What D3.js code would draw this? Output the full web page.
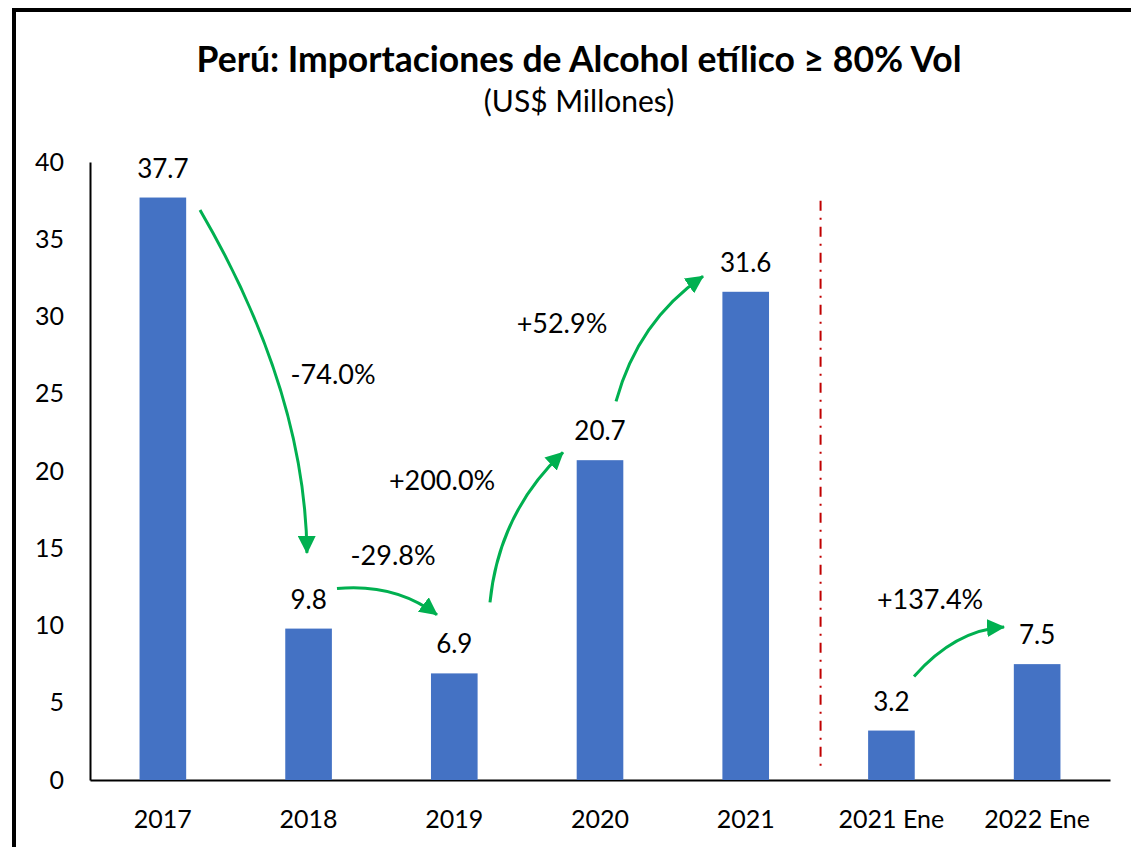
<!DOCTYPE html>
<html>
<head>
<meta charset="utf-8">
<script src="https://cdn.jsdelivr.net/npm/d3@7"></script>
<style>
  body { margin: 0; background: #fff; }
  text { font-family: Lato, "Open Sans", sans-serif; fill: #000; }
</style>
</head>
<body>
<div id="chart"></div>
<script>
// categories and values
const categories = ["2017", "2018", "2019", "2020", "2021", "2021 Ene", "2022 Ene"];
const values = [37.7, 9.8, 6.9, 20.7, 31.6, 3.2, 7.5];
const yTicks = [0, 5, 10, 15, 20, 25, 30, 35, 40];

// growth arrows: [category index, value] for start, control and tip
const arrowLabels = ["-74.0%", "-29.8%", "+200.0%", "+52.9%", "+137.4%"];
const arrowStart = [[0.255, 36.9], [1.195, 12.4], [2.245, 11.5], [3.11, 24.5], [5.155, 6.7]];
const arrowCtrl  = [[0.976, 25.2], [1.593, 12.75], [2.307, 17.3], [3.261, 29.7], [5.436, 9.7]];
const arrowTip   = [[0.989, 14.7], [1.881, 10.7], [2.746, 21.2], [3.707, 32.6], [5.773, 9.9]];
const arrowText  = [[1.168, 25.6], [1.58, 13.9], [1.916, 18.8], [2.739, 28.9], [5.265, 11.1]];

const W = 1131, H = 847;
const margin = { top: 162, right: 21, bottom: 67, left: 90 };

const svg = d3.select("#chart").append("svg")
    .attr("width", W)
    .attr("height", H);

// outer frame
svg.append("rect")
    .attr("x", 14).attr("y", 10)
    .attr("width", W + 20).attr("height", H + 20)
    .attr("fill", "none")
    .attr("stroke", "#000")
    .attr("stroke-width", 4);

// titles
svg.append("text")
    .attr("x", 579).attr("y", 72)
    .attr("text-anchor", "middle")
    .style("font-weight", "bold")
    .style("font-size", "35.5px")
    .text("Perú: Importaciones de Alcohol etílico ≥ 80% Vol");

svg.append("text")
    .attr("x", 579).attr("y", 112)
    .attr("text-anchor", "middle")
    .style("font-size", "30px")
    .text("(US$ Millones)");

// scales
const x = d3.scaleBand()
    .domain(categories)
    .range([margin.left, W - margin.right])
    .paddingInner(0.68)
    .paddingOuter(0.34);

const y = d3.scaleLinear()
    .domain([0, 40])
    .range([H - margin.bottom, margin.top]);

// fractional category index -> pixel
const xi = i => x(categories[0]) + x.bandwidth() / 2 + i * x.step();
const pt = d => [xi(d[0]), y(d[1])];

// axes
const yAxis = svg.append("g")
    .attr("transform", `translate(${margin.left},0)`)
    .call(d3.axisLeft(y).tickValues(yTicks).tickSize(0).tickPadding(26));

const xAxis = svg.append("g")
    .attr("transform", `translate(0,${H - margin.bottom})`)
    .call(d3.axisBottom(x).tickSize(0).tickPadding(30));

[yAxis, xAxis].forEach(g => {
    g.select(".domain").attr("stroke", "#000").attr("stroke-width", 2);
    g.selectAll("text")
        .style("font-size", "25px")
        .style("font-family", "Lato, sans-serif")
        .attr("fill", "#000");
});

// bars
svg.append("g")
    .selectAll("rect")
    .data(values)
    .enter()
    .append("rect")
    .attr("x", (d, i) => x(categories[i]))
    .attr("y", d => y(d))
    .attr("width", x.bandwidth())
    .attr("height", d => y(0) - y(d))
    .attr("fill", "#4472C4");

// value labels
svg.append("g")
    .selectAll("text")
    .data(values)
    .enter()
    .append("text")
    .attr("x", (d, i) => x(categories[i]) + x.bandwidth() / 2)
    .attr("y", d => y(d) - 20)
    .attr("text-anchor", "middle")
    .style("font-size", "26px")
    .text(d => d.toFixed(1));

// red separator between yearly and monthly data
const sepX = x("2021 Ene") - x.step() * x.paddingInner() / 2 + 2;
svg.append("line")
    .attr("x1", sepX).attr("x2", sepX)
    .attr("y1", y(37.5)).attr("y2", y(0.6))
    .attr("stroke", "#C00000")
    .attr("stroke-width", 2)
    .attr("stroke-dasharray", "10,7,2,7");

// arrows
svg.append("defs").append("marker")
    .attr("id", "head")
    .attr("viewBox", "0 0 18 18")
    .attr("refX", 17).attr("refY", 9)
    .attr("markerWidth", 18).attr("markerHeight", 18)
    .attr("markerUnits", "userSpaceOnUse")
    .attr("orient", "auto")
    .append("path")
    .attr("d", "M0,0 L18,9 L0,18 Z")
    .attr("fill", "#00B050");

const arrows = svg.append("g");
arrowLabels.forEach((label, i) => {
    const p = d3.path();
    const s = pt(arrowStart[i]), c = pt(arrowCtrl[i]), t = pt(arrowTip[i]);
    p.moveTo(s[0], s[1]);
    p.quadraticCurveTo(c[0], c[1], t[0], t[1]);
    arrows.append("path")
        .attr("d", p.toString())
        .attr("fill", "none")
        .attr("stroke", "#00B050")
        .attr("stroke-width", 3)
        .attr("marker-end", "url(#head)");

    const tp = pt(arrowText[i]);
    arrows.append("text")
        .attr("x", tp[0]).attr("y", tp[1])
        .attr("text-anchor", "middle")
        .style("font-size", "27px")
        .text(label);
});
</script>
</body>
</html>
